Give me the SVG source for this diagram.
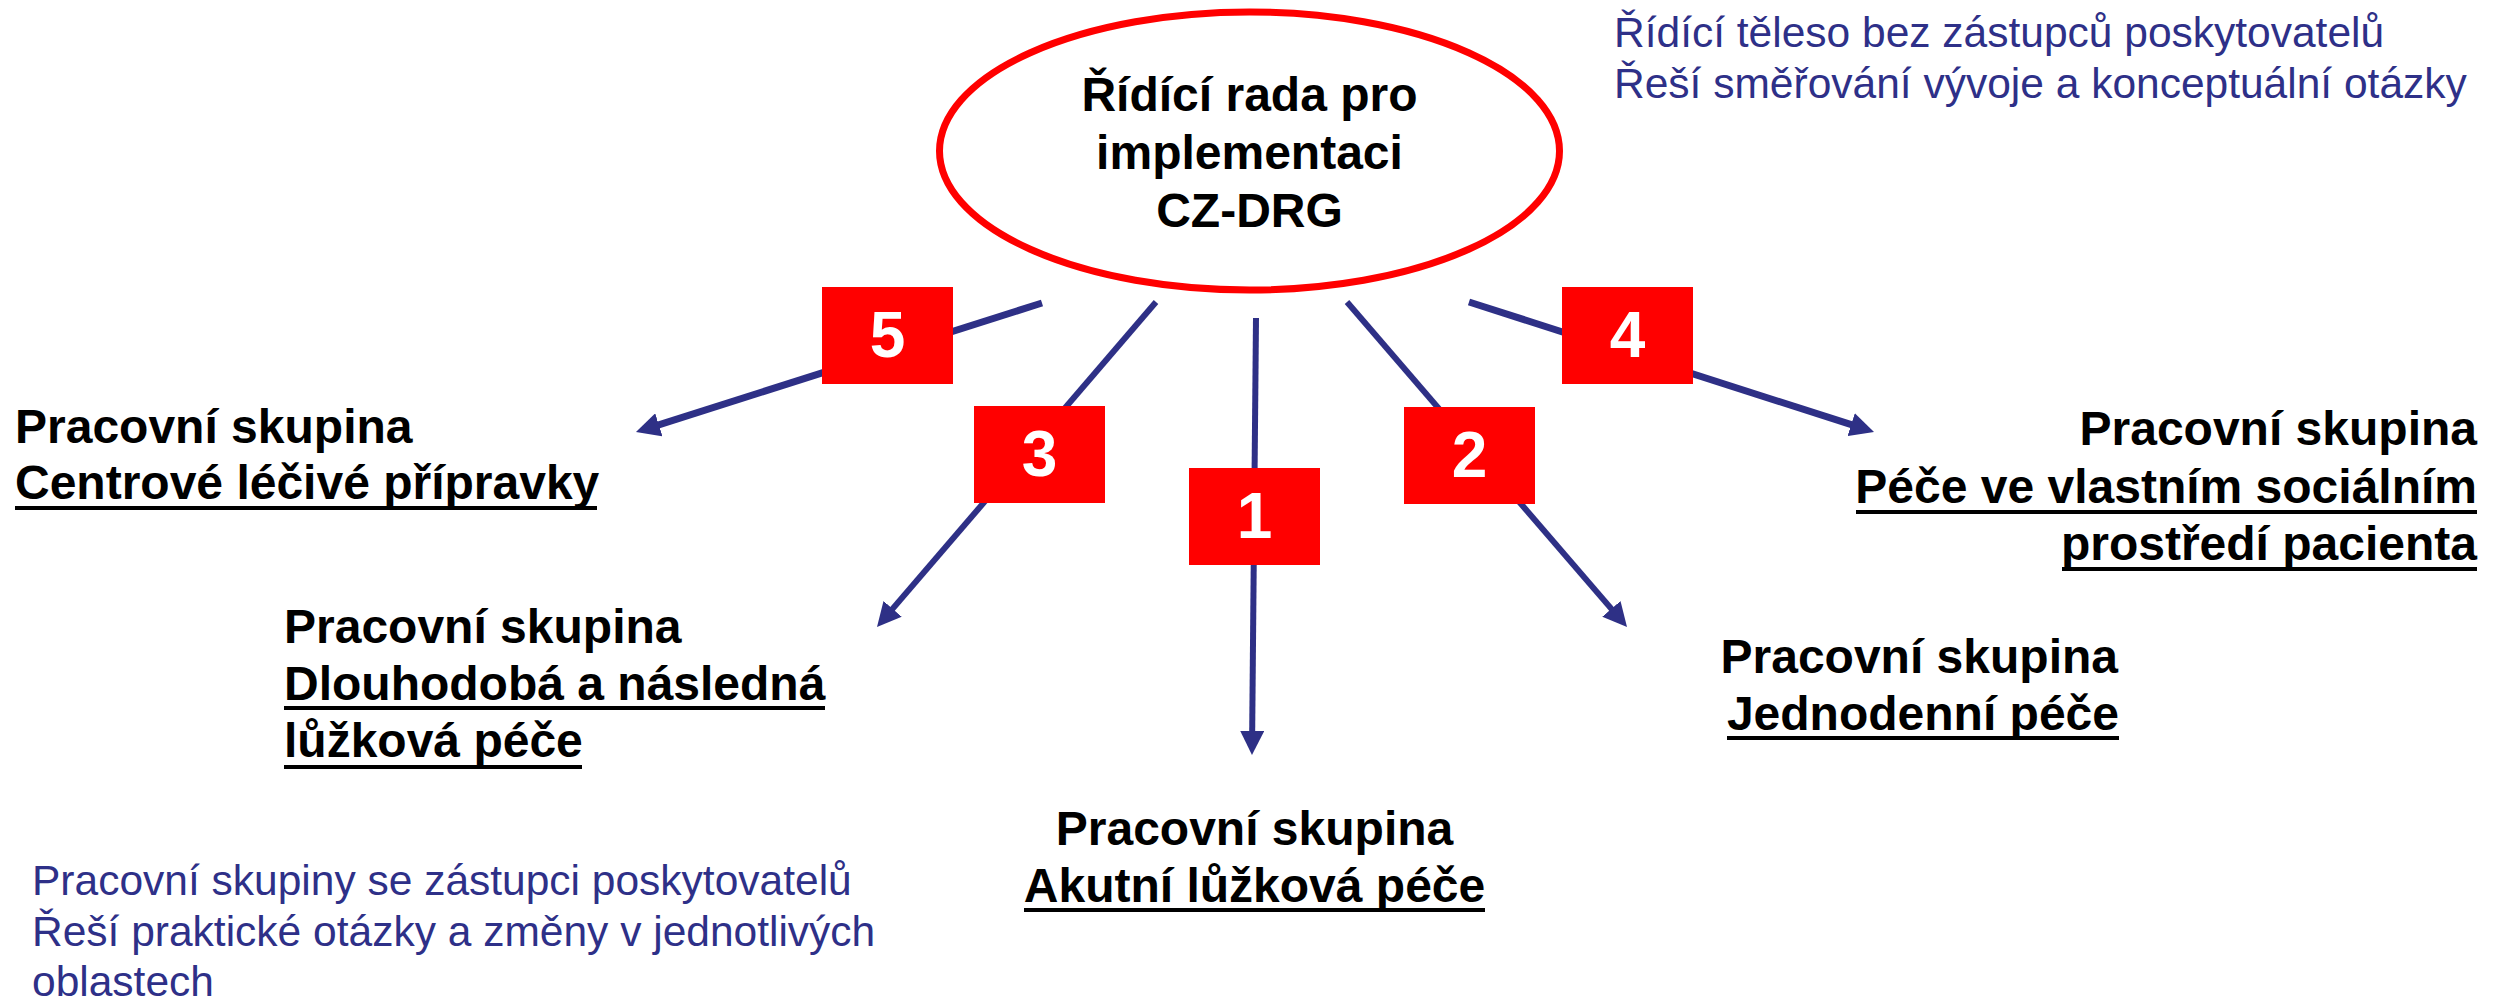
<svg xmlns="http://www.w3.org/2000/svg" width="2499" height="999" viewBox="0 0 2499 999">
<style>
.t{font-family:"Liberation Sans",Arial,sans-serif;font-weight:bold;font-size:48px;fill:#000}
.n{font-family:"Liberation Sans",Arial,sans-serif;font-size:42.5px;fill:#2E3088}
.num{font-family:"Liberation Sans",Arial,sans-serif;font-weight:bold;font-size:64px;fill:#fff;text-anchor:middle}
.ul{stroke:#000;stroke-width:4}
.c{stroke:#2E3086;fill:none;marker-end:url(#ah)}
.box{fill:#FF0000}
</style>
<defs>
<marker id="ah" markerUnits="userSpaceOnUse" viewBox="0 0 24 24" refX="10" refY="12" markerWidth="24" markerHeight="24" orient="auto">
<path d="M0,0 L24,12 L0,24 z" fill="#2E3086"/>
</marker>
</defs>
<rect width="2499" height="999" fill="#fff"/>

<g id="connectors">
<line class="c" stroke-width="6" x1="1256" y1="318" x2="1252.1" y2="741"/>
<line class="c" stroke-width="6" x1="1347" y1="302" x2="1617.9" y2="616.4"/>
<line class="c" stroke-width="6" x1="1156" y1="302" x2="886.1" y2="616.4"/>
<line class="c" stroke-width="7" x1="1469" y1="302" x2="1860.7" y2="427.7"/>
<line class="c" stroke-width="7" x1="1042" y1="303" x2="649.3" y2="427.8"/>
</g>

<g id="labels">
<rect class="box" x="822" y="287" width="131" height="97"/><text class="num" x="887.5" y="357">5</text>
<rect class="box" x="1562" y="287" width="131" height="97"/><text class="num" x="1627.5" y="357">4</text>
<rect class="box" x="974" y="406" width="131" height="97"/><text class="num" x="1039.5" y="476">3</text>
<rect class="box" x="1404" y="407" width="131" height="97"/><text class="num" x="1469.5" y="477">2</text>
<rect class="box" x="1189" y="468" width="131" height="97"/><text class="num" x="1254.5" y="538">1</text>
</g>

<g id="council">
<ellipse cx="1249.5" cy="151" rx="310" ry="139" fill="#fff" stroke="#FF0000" stroke-width="7"/>
<text class="t" text-anchor="middle" x="1249.5" y="111">Řídící rada pro</text>
<text class="t" text-anchor="middle" x="1249.5" y="169">implementaci</text>
<text class="t" text-anchor="middle" x="1249.5" y="227">CZ-DRG</text>
</g>

<g id="note-top">
<text class="n" x="1614" y="47">Řídící těleso bez zástupců poskytovatelů</text>
<text class="n" x="1614" y="98">Řeší směřování vývoje a konceptuální otázky</text>
</g>

<g id="note-bottom">
<text class="n" x="32" y="895">Pracovní skupiny se zástupci poskytovatelů</text>
<text class="n" x="32" y="946">Řeší praktické otázky a změny v jednotlivých</text>
<text class="n" x="32" y="996">oblastech</text>
</g>

<g id="wg5">
<text class="t" x="15" y="443">Pracovní skupina</text>
<text class="t" x="15" y="499">Centrové léčivé přípravky</text>
<line class="ul" x1="15" y1="508" x2="597" y2="508"/>
</g>

<g id="wg3">
<text class="t" x="284" y="643">Pracovní skupina</text>
<text class="t" x="284" y="700">Dlouhodobá a následná</text>
<line class="ul" x1="284" y1="708" x2="825" y2="708"/>
<text class="t" x="284" y="757">lůžková péče</text>
<line class="ul" x1="284" y1="767" x2="582" y2="767"/>
</g>

<g id="wg1">
<text class="t" text-anchor="middle" x="1254.5" y="845">Pracovní skupina</text>
<text class="t" text-anchor="middle" x="1254.5" y="902">Akutní lůžková péče</text>
<line class="ul" x1="1024" y1="910" x2="1485" y2="910"/>
</g>

<g id="wg2">
<text class="t" text-anchor="end" x="2118" y="673">Pracovní skupina</text>
<text class="t" text-anchor="end" x="2119" y="730">Jednodenní péče</text>
<line class="ul" x1="1727" y1="738" x2="2119" y2="738"/>
</g>

<g id="wg4">
<text class="t" text-anchor="end" x="2477" y="445">Pracovní skupina</text>
<text class="t" text-anchor="end" x="2477" y="503">Péče ve vlastním sociálním</text>
<line class="ul" x1="1856" y1="512" x2="2477" y2="512"/>
<text class="t" text-anchor="end" x="2477" y="560">prostředí pacienta</text>
<line class="ul" x1="2062" y1="569" x2="2477" y2="569"/>
</g>
</svg>
